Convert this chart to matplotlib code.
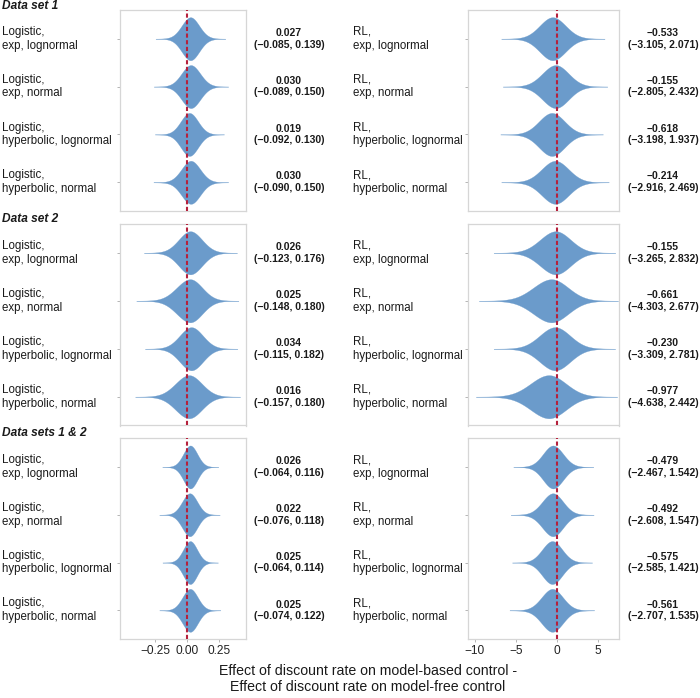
import numpy as np
import matplotlib.pyplot as plt
import matplotlib.transforms as mtransforms

plt.rcParams['font.family'] = ['Liberation Sans', 'DejaVu Sans']

# summary of posterior differences (mean, interval) per model
set_titles = ["Data set 1", "Data set 2", "Data sets 1 & 2"]
variants = ["exp, lognormal", "exp, normal", "hyperbolic, lognormal", "hyperbolic, normal"]
families = ["Logistic", "RL"]

logistic_mean = [[0.027, 0.030, 0.019, 0.030],
                 [0.026, 0.025, 0.034, 0.016],
                 [0.026, 0.022, 0.025, 0.025]]
logistic_lo = [[-0.085, -0.089, -0.092, -0.090],
               [-0.123, -0.148, -0.115, -0.157],
               [-0.064, -0.076, -0.064, -0.074]]
logistic_hi = [[0.139, 0.150, 0.130, 0.150],
               [0.176, 0.180, 0.182, 0.180],
               [0.116, 0.118, 0.114, 0.122]]

rl_mean = [[-0.533, -0.155, -0.618, -0.214],
           [-0.155, -0.661, -0.230, -0.977],
           [-0.479, -0.492, -0.575, -0.561]]
rl_lo = [[-3.105, -2.805, -3.198, -2.916],
         [-3.265, -4.303, -3.309, -4.638],
         [-2.467, -2.608, -2.585, -2.707]]
rl_hi = [[2.071, 2.432, 1.937, 2.469],
         [2.832, 2.677, 2.781, 2.442],
         [1.542, 1.547, 1.421, 1.535]]

logistic_ticks = [-0.25, 0.0, 0.25]
logistic_ticklabels = ["\u22120.25", "0.00", "0.25"]
rl_ticks = [-10, -5, 0, 5]
rl_ticklabels = ["\u221210", "\u22125", "0", "5"]

FILL = "#6b9bcb"
RED = "#b5213c"
GRID = "#d6d6d6"
TXT = "#1a1a1a"

fig = plt.figure(figsize=(7, 6.98), dpi=100)
W, H = 700.0, 698.0

row_px = [(10, 211), (224, 425.5), (438.3, 639)]
col_px = [(119.5, 246), (468.3, 619)]
col_lim = [(-0.527, 0.461), (-10.8, 7.56)]
label_x = [2, 352.7]
annot_x = [289, 663]
header_y = [6, 219, 433]

zq = 1.645  # interval half-width in sd units


def violin(ax, y, m, lo, hi, half=0.45):
    s_lo = (m - lo) / zq
    s_hi = (hi - m) / zq
    x = np.linspace(m - 4.0 * s_lo, m + 4.0 * s_hi, 500)
    z = np.where(x < m, (x - m) / s_lo, (x - m) / s_hi)
    d = np.exp(-z ** 2 / 2) + 0.03 * np.exp(-np.abs(z) / 2.0)
    d = d / d.max()
    ax.fill_between(x, y - half * d, y + half * d, color=FILL, lw=0.2, ec=FILL)


def fmt(v):
    return f"{v:.3f}".replace("-", "\u2212")


for r in range(3):
    top, bot = row_px[r]
    fig.text(2 / W, 1 - header_y[r] / H, set_titles[r], fontsize=8.6,
             fontweight="bold", fontstyle="italic", va="center", ha="left", color=TXT)
    for c in range(2):
        left, right = col_px[c]
        ax = fig.add_axes([left / W, 1 - bot / H, (right - left) / W, (bot - top) / H])
        means = [logistic_mean, rl_mean][c][r]
        los = [logistic_lo, rl_lo][c][r]
        his = [logistic_hi, rl_hi][c][r]
        ax.set_xlim(*col_lim[c])
        ax.set_ylim(4.6, 0.4)
        tr = mtransforms.blended_transform_factory(fig.transFigure, ax.transData)
        for i in range(4):
            y = i + 1
            violin(ax, y, means[i], los[i], his[i])
            ax.text(label_x[c] / W, y, f"{families[c]},\n{variants[i]}", transform=tr,
                    fontsize=8.3, ha="left", va="center", color=TXT, linespacing=1.2,
                    clip_on=False)
            ax.text(annot_x[c] / W, y, f"{fmt(means[i])}\n({fmt(los[i])}, {fmt(his[i])})",
                    transform=tr, fontsize=7.5, fontweight="bold", ha="center",
                    va="center", color=TXT, linespacing=1.2, clip_on=False)
        ax.axvline(0, color=RED, lw=1.5, ls=(0, (2.0, 1.2)), zorder=5)
        ax.set_yticks([1, 2, 3, 4])
        ax.set_yticklabels([])
        for sp in ax.spines.values():
            sp.set_color(GRID)
            sp.set_linewidth(0.9)
        ax.tick_params(axis="y", length=2, width=0.6, color="#aaaaaa")
        if r == 2:
            ax.set_xticks([logistic_ticks, rl_ticks][c])
            ax.set_xticklabels([logistic_ticklabels, rl_ticklabels][c], fontsize=8.6, color="#222222")
            ax.tick_params(axis="x", length=2, width=0.6, color="#aaaaaa", pad=2)
        else:
            ax.set_xticks([])

fig.text(368 / W, 1 - 679 / H, "Effect of discount rate on model-based control -\n"
         "Effect of discount rate on model-free control", fontsize=10.2,
         ha="center", va="center", color=TXT, linespacing=1.15)

fig.savefig("out.png", dpi=100)
